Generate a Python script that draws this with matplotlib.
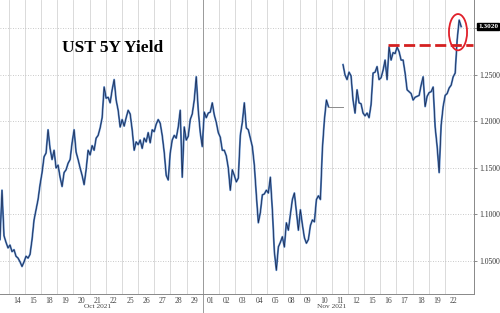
import matplotlib
matplotlib.use('Agg')
import matplotlib.pyplot as plt
import matplotlib.transforms as mtrans
from matplotlib.patches import Ellipse
import numpy as np

# UST 5Y yield, intraday samples (8 per trading day)
step = 0.124  # trading days per sample
start_a = -1.05  # Oct 13 afternoon -> Nov 10
yield_a = [1.073, 1.126, 1.077, 1.070, 1.064, 1.067, 1.060, 1.062, 1.055, 1.053,
           1.049, 1.044, 1.049, 1.055, 1.053, 1.057, 1.073, 1.094, 1.105, 1.116,
           1.132, 1.145, 1.162, 1.166, 1.191, 1.171, 1.159, 1.169, 1.150, 1.153,
           1.140, 1.130, 1.145, 1.148, 1.155, 1.159, 1.177, 1.191, 1.167, 1.159,
           1.150, 1.142, 1.132, 1.148, 1.169, 1.164, 1.174, 1.169, 1.182, 1.185,
           1.193, 1.204, 1.237, 1.225, 1.226, 1.220, 1.234, 1.245, 1.223, 1.212,
           1.194, 1.202, 1.195, 1.204, 1.212, 1.208, 1.191, 1.169, 1.178, 1.175,
           1.180, 1.171, 1.182, 1.178, 1.188, 1.177, 1.191, 1.189, 1.197, 1.202,
           1.198, 1.185, 1.167, 1.142, 1.137, 1.166, 1.180, 1.185, 1.182, 1.194,
           1.212, 1.140, 1.194, 1.180, 1.184, 1.202, 1.208, 1.223, 1.248, 1.212,
           1.188, 1.173, 1.210, 1.204, 1.209, 1.210, 1.220, 1.207, 1.199, 1.188,
           1.183, 1.169, 1.169, 1.163, 1.150, 1.126, 1.148, 1.142, 1.135, 1.139,
           1.185, 1.199, 1.220, 1.193, 1.191, 1.182, 1.173, 1.153, 1.121, 1.091,
           1.102, 1.121, 1.122, 1.126, 1.123, 1.140, 1.105, 1.060, 1.040, 1.065,
           1.070, 1.076, 1.065, 1.091, 1.083, 1.100, 1.116, 1.123, 1.103, 1.083,
           1.105, 1.089, 1.075, 1.069, 1.073, 1.088, 1.094, 1.092, 1.116, 1.120,
           1.116, 1.171, 1.202, 1.223, 1.216]
holiday = [19.26, 20.19]  # Nov 11, market closed
start_b = 20.19  # Nov 11 evening -> Nov 22
yield_b = [1.261, 1.250, 1.245, 1.253, 1.249, 1.223, 1.209, 1.234, 1.220, 1.219,
           1.209, 1.206, 1.209, 1.204, 1.218, 1.252, 1.253, 1.259, 1.245, 1.247,
           1.255, 1.266, 1.245, 1.280, 1.266, 1.274, 1.273, 1.280, 1.275, 1.266,
           1.266, 1.252, 1.234, 1.232, 1.230, 1.223, 1.226, 1.227, 1.228, 1.239,
           1.248, 1.216, 1.227, 1.231, 1.232, 1.237, 1.194, 1.173, 1.145, 1.196,
           1.216, 1.228, 1.230, 1.236, 1.239, 1.248, 1.252, 1.288, 1.309, 1.302]
prior_high = 1.282
last_value = 1.302

day_labels = ['14', '15', '18', '19', '20', '21', '22', '25', '26', '27', '28', '29',
              '01', '02', '03', '04', '05', '08', '09', '10', '11', '12', '15', '16',
              '17', '18', '19', '22']
month_labels = ['Oct 2021', 'Nov 2021']
month_pos = [5.0, 19.5]
yticks = [1.05, 1.10, 1.15, 1.20, 1.25, 1.30]

plt.rcParams['font.family'] = ['Liberation Serif', 'DejaVu Serif']

fig = plt.figure(figsize=(5.0, 3.13), dpi=100)
ax = fig.add_axes([0.0, 0.061, 0.948, 0.939])

xa = start_a + step * np.arange(len(yield_a))
xb = start_b + step * np.arange(len(yield_b))
for xs, ys in [(xa, yield_a), (xb, yield_b)]:
    ax.plot(xs, ys, color='#5a88c6', lw=1.4, zorder=3)
    ax.plot(xs, ys, color='#16244a', lw=0.5, zorder=4)
ax.plot(holiday, [yield_a[-1]] * 2, color='#8a8a8a', lw=0.7, zorder=3)

# prior high and the breakout
ax.plot([22.97, 28.24], [prior_high, prior_high], color='#d42020', lw=2.0,
        ls=(0, (4, 1.6)), zorder=5)
ax.add_patch(Ellipse((27.31, 1.296), 1.12, 0.039, fill=False, ec='#e0202a',
                     lw=1.3, zorder=6))

ax.set_xlim(-1.05, 28.3)
ax.set_ylim(1.0145, 1.3306)

# grid
for b in np.arange(-0.5, 27.0, 1.0):
    ax.axvline(b, color='#d4d4d4', lw=0.6, zorder=1)
for t in yticks:
    ax.axhline(t, color='#b8b8b8', lw=0.6, ls=(0, (1, 2)), zorder=1)
trans = mtrans.blended_transform_factory(ax.transData, ax.transAxes)
ax.plot([11.5, 11.5], [-0.07, 1.0], transform=trans, color='#9a9a9a', lw=0.7,
        clip_on=False, zorder=2)

ax.set_xticks(np.arange(len(day_labels)))
ax.set_xticklabels(day_labels)
ax.tick_params(axis='x', length=0, pad=2, labelsize=5.5, labelcolor='#444444')
for m, p in zip(month_labels, month_pos):
    ax.text(p, -0.043, m, transform=trans, ha='center', va='center', fontsize=5.3,
            color='#444444')

ax.yaxis.tick_right()
ax.set_yticks(yticks)
ax.set_yticklabels(['%.4f' % t for t in yticks[:-1]] + [''])
ax.tick_params(axis='y', length=2.5, width=0.6, color='#777777', pad=1.5,
               labelsize=5.5, labelcolor='#333333')
ax.annotate('%.4f' % last_value, xy=(1.0, last_value),
            xycoords=('axes fraction', 'data'), xytext=(3, 0),
            textcoords='offset points', ha='left', va='center', fontsize=5.2,
            color='white', fontweight='bold', annotation_clip=False,
            bbox=dict(boxstyle='square,pad=0.15', fc='black', ec='black'))

for s in ['top', 'left']:
    ax.spines[s].set_visible(False)
for s in ['right', 'bottom']:
    ax.spines[s].set_color('#888888')
    ax.spines[s].set_linewidth(0.7)

fig.text(0.124, 0.834, 'UST 5Y Yield', fontsize=12.5, fontweight='bold',
         color='black', ha='left', va='baseline')

fig.savefig('out.png', dpi=100)
